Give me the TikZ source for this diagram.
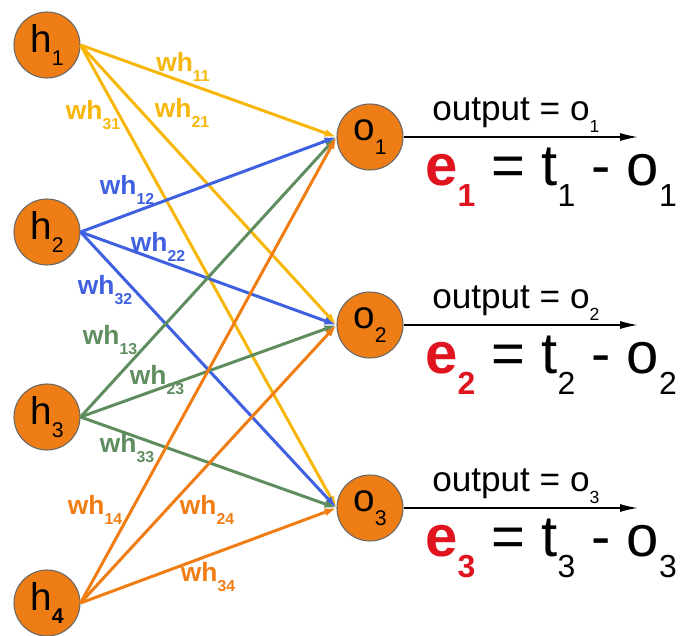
\documentclass[tikz,border=0pt]{standalone}
\usepackage{fontspec}
\setmainfont{Liberation Sans}
\usetikzlibrary{arrows.meta, positioning}
\definecolor{nodeorange}{HTML}{EF7D16}
\definecolor{wyellow}{HTML}{F6B60A}
\definecolor{wblue}{HTML}{3F60E0}
\definecolor{wgreen}{HTML}{5F8D5F}
\definecolor{worange}{HTML}{F07D14}
\definecolor{ered}{HTML}{E0141E}
\newcommand{\subi}[2][0.55]{\raisebox{-0.66ex}{\scalebox{#1}{#2}}}
\tikzset{
  neuron/.style={circle,draw=black!60,line width=0.6pt,fill=nodeorange,
    minimum size=1.32cm,inner sep=0pt,font=\fontsize{22}{22}\selectfont},
  wedge/.style={-{Latex[length=2.4mm,width=1.6mm]},line width=1.7pt,draw=#1},
  wlabel/.style={text=#1,inner sep=1pt,font=\fontsize{15}{15}\selectfont\bfseries},
  outarrow/.style={-{Latex[length=3.5mm,width=1.6mm]},line width=0.6pt},
  outtext/.style={inner sep=2pt,font=\fontsize{20}{20}\selectfont},
  errtext/.style={inner sep=0pt,font=\fontsize{33}{33}\selectfont},
}
\begin{document}
\begin{tikzpicture}
  \useasboundingbox (0,0) rectangle (13.64,12.72);
  \foreach \i/\s/\y in {1/1/11.82, 2/2/8.08, 3/3/4.38, 4/\textbf{4}/0.66}
    \node[neuron] (h\i) at (0.94,\y) {h\subi{\s}};
  \foreach \j/\y in {1/9.98, 2/6.22, 3/2.56}
    \node[neuron] (o\j) at (7.40,\y) {o\subi{\j}};
  \foreach \i/\col in {1/wyellow, 2/wblue, 3/wgreen, 4/worange}
    \foreach \j in {1,2,3}
      \draw[wedge=\col] (h\i.east) -- (o\j.west);
  \foreach \j/\i/\x/\y/\col in {1/1/3.66/11.38/wyellow, 2/1/3.64/10.46/wyellow, 3/1/1.86/10.42/wyellow,
      1/2/2.54/8.92/wblue, 2/2/3.16/7.78/wblue, 3/2/2.10/6.92/wblue,
      1/3/2.20/5.92/wgreen, 2/3/3.14/5.12/wgreen, 3/3/2.54/3.76/wgreen,
      1/4/1.90/2.52/worange, 2/4/4.14/2.52/worange, 3/4/4.16/1.18/worange}
    \node[wlabel=\col] (w\j\i) at (\x,\y) {wh\subi[0.6]{\j\i}};
  \foreach \j/\y in {1/9.98, 2/6.22, 3/2.56} {
    \coordinate[right=4.68cm of o\j.east] (end\j);
    \draw[outarrow] (o\j.east) -- node[outtext,above,pos=0.48] (out\j) {output = o\subi[0.5]{\j}} (end\j);
    \node[errtext,anchor=base west] (e\j) at (8.50,\y-0.98)
      {{\color{ered}\bfseries e\subi{\j}} = t\subi{\j} - o\subi{\j}};
  }
\end{tikzpicture}
\end{document}
